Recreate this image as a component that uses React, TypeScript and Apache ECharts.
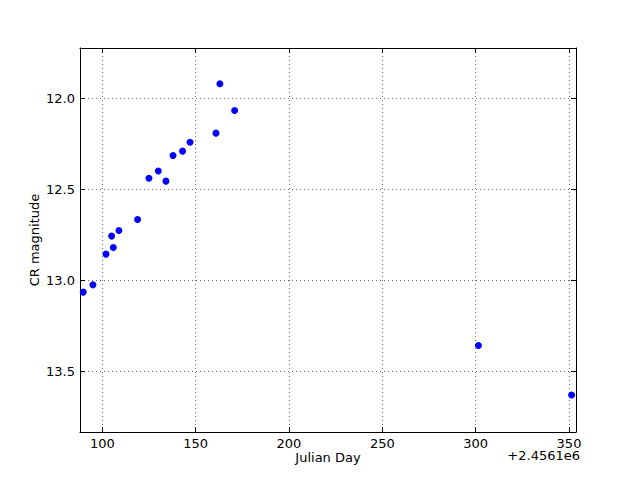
import React, { useEffect, useRef } from "react";
import * as echarts from "echarts";

const julianDay: number[] = [89.8, 95.0, 102.0, 105.0, 105.9, 108.9, 118.9, 125.0, 130.0, 134.1, 137.9, 143.0, 147.0, 160.9, 163.0, 170.9, 301.5, 351.4];
const crMagnitude: number[] = [13.066, 13.026, 12.857, 12.758, 12.821, 12.727, 12.667, 12.44, 12.40, 12.456, 12.315, 12.291, 12.242, 12.192, 11.921, 12.068, 13.359, 13.632];
const xRange = [88.06, 353.75];
const yRange = [11.724, 13.835];
const xLabel = "Julian Day";
const yLabel = "CR magnitude";
const offsetText = "+2.4561e6";

const FONT = "DejaVu Sans";

export default function App() {
  const ref = useRef<HTMLDivElement>(null);
  useEffect(() => {
    if (!ref.current) return;
    const chart = echarts.init(ref.current, undefined, { renderer: "svg" });
    const gridLine = { show: true, lineStyle: { color: "#444", type: [1, 3] as any, width: 0.8 } };
    const axisLine = { show: true, onZero: false, lineStyle: { color: "#000", width: 1 } };
    const tick = { show: true, inside: true, length: 5, lineStyle: { color: "#000" } };
    const lbl = { color: "#000", fontFamily: FONT, fontSize: 13 };
    const data = julianDay.map((d, i) => [d, crMagnitude[i]]);
    chart.setOption({
      animation: false,
      backgroundColor: "#fff",
      textStyle: { fontFamily: FONT },
      grid: { left: 80, top: 48, width: 496, height: 384, containLabel: false },
      xAxis: [
        {
          type: "value", min: xRange[0], max: xRange[1], splitNumber: 5, minInterval: 50, maxInterval: 50,
          axisLine, axisTick: tick, splitLine: gridLine,
          axisLabel: { ...lbl, margin: 5, showMinLabel: false, showMaxLabel: false, formatter: (v: number) => String(Math.round(v)) },
          name: xLabel, nameLocation: "middle", nameGap: 19, nameMoveOverlap: false, nameTextStyle: { ...lbl },
        },
        {
          type: "value", position: "top", min: xRange[0], max: xRange[1], splitNumber: 5, minInterval: 50, maxInterval: 50,
          axisLine, axisTick: tick, splitLine: { show: false }, axisLabel: { show: false },
        },
      ],
      yAxis: [
        {
          type: "value", inverse: true, min: yRange[0], max: yRange[1], splitNumber: 4, minInterval: 0.5, maxInterval: 0.5,
          axisLine, axisTick: tick, splitLine: gridLine,
          axisLabel: { ...lbl, margin: 5, showMinLabel: false, showMaxLabel: false, formatter: (v: number) => v.toFixed(1) },
          name: yLabel, nameLocation: "middle", nameGap: 39, nameMoveOverlap: false, nameTextStyle: { ...lbl },
        },
        {
          type: "value", position: "right", inverse: true, min: yRange[0], max: yRange[1], splitNumber: 4, minInterval: 0.5, maxInterval: 0.5,
          axisLine, axisTick: tick, splitLine: { show: false }, axisLabel: { show: false },
        },
      ],
      graphic: [
        {
          type: "text", right: 60, top: 449,
          style: { text: offsetText, fill: "#000", font: `13px "${FONT}"` },
        },
      ],
      series: [
        {
          type: "scatter", xAxisIndex: 0, yAxisIndex: 0, data, symbol: "circle", symbolSize: 7,
          itemStyle: { color: "#0000ff", opacity: 1 }, clip: false,
        },
      ],
    });
    return () => chart.dispose();
  }, []);
  return <div ref={ref} style={{ position: "fixed", left: 0, top: 0, width: 640, height: 480 }} />;
}
